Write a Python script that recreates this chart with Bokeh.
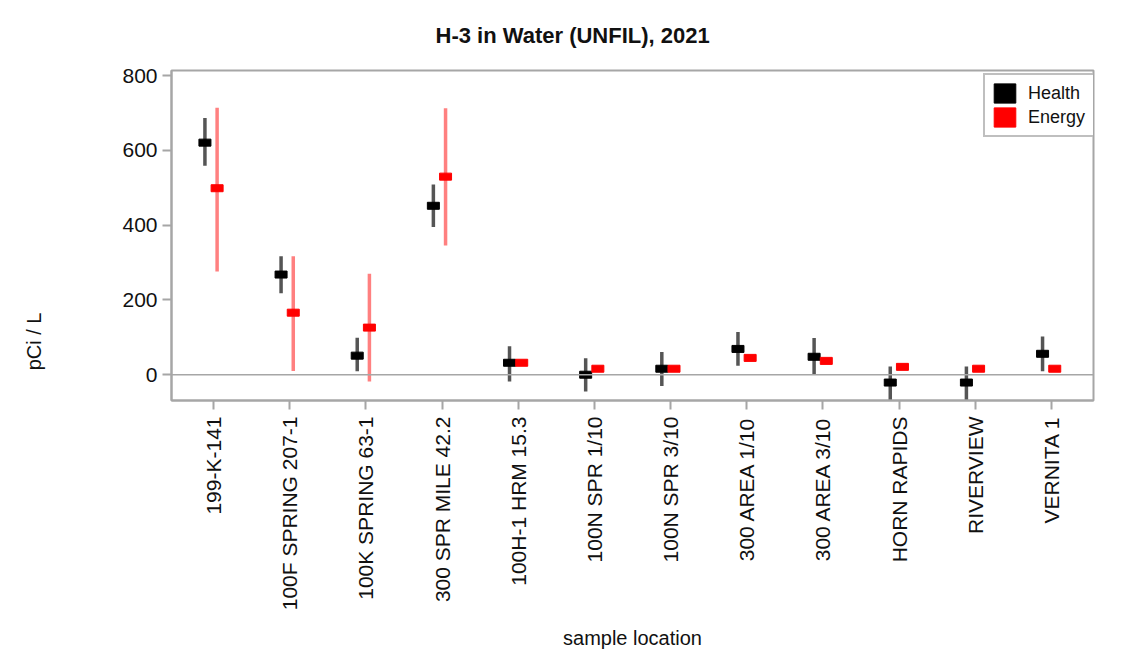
import math
from bokeh.plotting import figure
from bokeh.models import (FactorRange, Range1d, FixedTicker, Span, Legend, LegendItem,
                          Label, ColumnDataSource)
from bokeh.transform import dodge
from bokeh.embed import file_html
from bokeh.resources import INLINE

# ---------------- data ----------------
categories = ["199-K-141", "100F SPRING 207-1", "100K SPRING 63-1", "300 SPR MILE 42.2",
              "100H-1 HRM 15.3", "100N SPR 1/10", "100N SPR 3/10", "300 AREA 1/10",
              "300 AREA 3/10", "HORN RAPIDS", "RIVERVIEW", "VERNITA 1"]

health_val = [621, 268, 51, 452, 32, 0, 16, 69, 48, -21, -21, 56]
health_lo = [559, 218, 9, 395, -18, -45, -30, 24, 0, -67, -67, 9]
health_hi = [687, 317, 99, 509, 76, 44, 61, 114, 98, 22, 22, 102]

energy_val = [499, 166, 126, 530, 32, 16, 16, 45, 37, 21, 16, 16]
energy_lo = [276, 10, -18, 346, 27, 12, 12, 39, 32, 17, 12, 12]
energy_hi = [714, 317, 270, 713, 37, 20, 20, 51, 42, 25, 20, 20]

y_ticks = [0, 200, 400, 600, 800]

FONT = "Liberation Sans"

src = ColumnDataSource(dict(cat=categories,
                            h=health_val, hlo=health_lo, hhi=health_hi,
                            e=energy_val, elo=energy_lo, ehi=energy_hi))

p = figure(width=1140, height=653, output_backend="svg", toolbar_location=None,
           x_range=FactorRange(factors=categories, range_padding=0.054,
                               range_padding_units="absolute"),
           y_range=Range1d(-69, 814),
           min_border_left=171, min_border_right=47, min_border_top=70, min_border_bottom=253,
           title="H-3 in Water (UNFIL), 2021")

p.background_fill_color = "white"
p.border_fill_color = "white"
p.outline_line_color = "#a6a6a6"
p.outline_line_width = 2
p.xgrid.visible = False
p.ygrid.visible = False

# title
p.title.text_font = FONT
p.title.text_font_size = "22px"
p.title.text_font_style = "bold"
p.title.text_color = "#111111"
p.title.align = "left"
p.title.offset = 264
p.title.vertical_align = "top"
p.title.standoff = 42

# zero line
p.add_layout(Span(location=0, dimension="width", line_color="#a6a6a6", line_width=1.5))

hx = dodge("cat", -0.115, range=p.x_range)
ex = dodge("cat", 0.045, range=p.x_range)

# error bars
p.segment(x0=hx, y0="hlo", x1=hx, y1="hhi", source=src, line_color="#555555", line_width=3.5)
p.segment(x0=ex, y0="elo", x1=ex, y1="ehi", source=src, line_color="#ff8080", line_width=3.5)

# markers
rh = p.rect(x=hx, y="h", width=12, height=7, width_units="screen", height_units="screen",
            source=src, fill_color="black", line_color="black")
re = p.rect(x=ex, y="e", width=12, height=7, width_units="screen", height_units="screen",
            source=src, fill_color="#ff0000", line_color="#ff0000")

# axes
for ax in (p.xaxis[0], p.yaxis[0]):
    ax.axis_line_color = "#a6a6a6"
    ax.axis_line_width = 2
    ax.major_tick_line_color = "#a6a6a6"
    ax.major_tick_line_width = 2
    ax.major_tick_out = 9
    ax.major_tick_in = 0
    ax.minor_tick_line_color = None
    ax.major_label_text_font = FONT
    ax.major_label_text_font_size = "21px"
    ax.major_label_text_color = "#111111"

p.yaxis.ticker = FixedTicker(ticks=y_ticks)
p.yaxis.major_label_standoff = 5

p.xaxis.major_label_orientation = math.pi / 2
p.xaxis.major_label_standoff = 7
p.xaxis.axis_label = "sample location"
p.xaxis.axis_label_text_font = FONT
p.xaxis.axis_label_text_font_size = "20px"
p.xaxis.axis_label_text_font_style = "normal"
p.xaxis.axis_label_text_color = "#111111"
p.xaxis.axis_label_standoff = 14

# y axis label (placed lower, as in reference) in the left side panel
ylab = Label(x=-63.5, y=89, x_units="screen", y_units="data", text="pCi / L",
             angle=math.pi / 2, text_align="center", text_baseline="middle",
             text_font=FONT, text_font_size="20px", text_color="#111111")
p.add_layout(ylab, "left")

legend = Legend(items=[LegendItem(label="Health", renderers=[rh]),
                       LegendItem(label="Energy", renderers=[re])],
                location=(812, 263), padding=6, spacing=0, margin=0,
                glyph_width=27, glyph_height=24, label_height=20, label_standoff=10, label_width=62,
                label_text_font=FONT, label_text_font_size="18px", label_text_color="#111111",
                border_line_color="#808080", border_line_width=2,
                background_fill_color="white", background_fill_alpha=1.0)
p.add_layout(legend)

open("out.html", "w").write(file_html(p, INLINE))
